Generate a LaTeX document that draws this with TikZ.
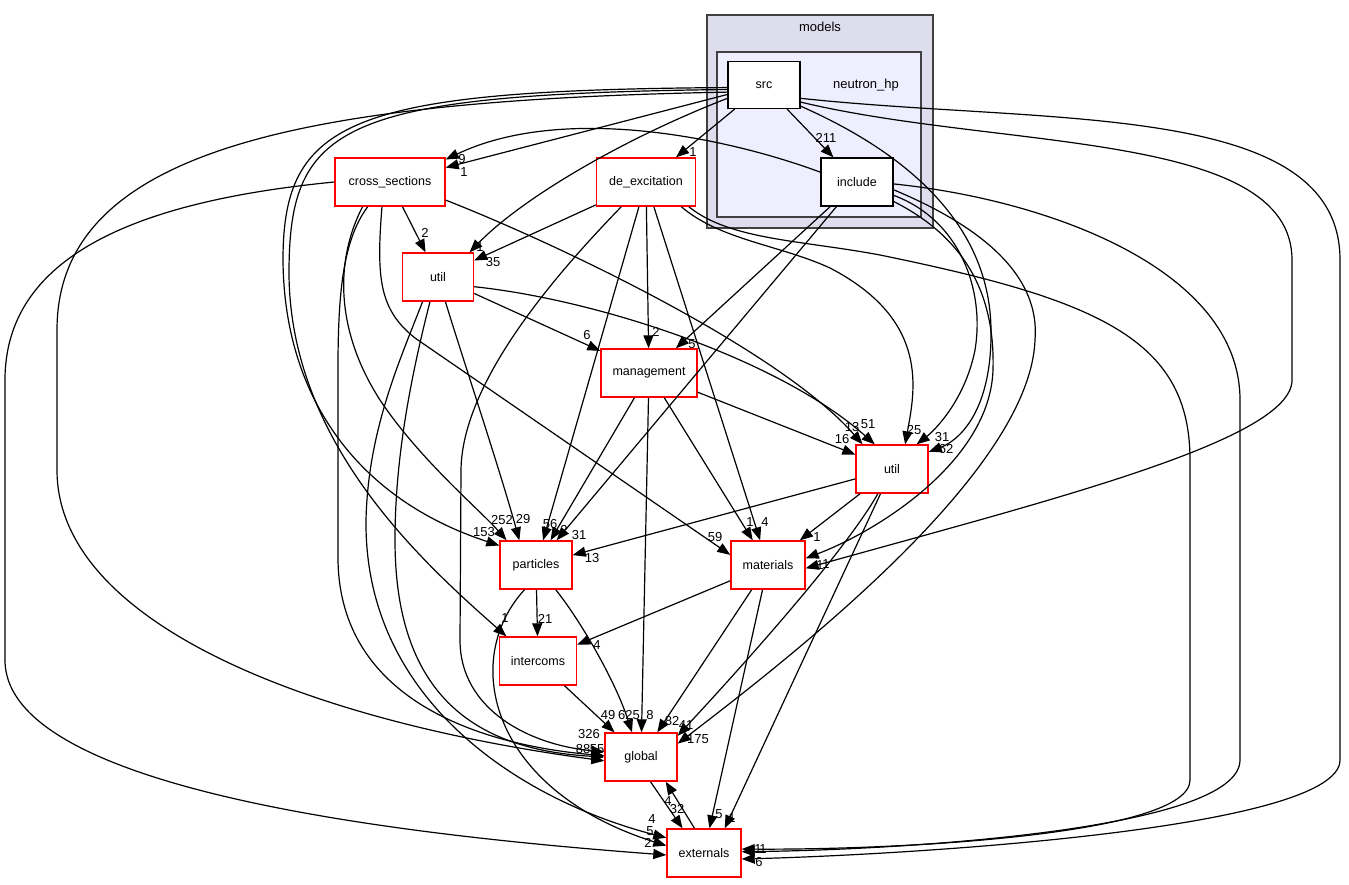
\documentclass[tikz,border=0pt]{standalone}
\usepackage{fontspec}
\setmainfont{Liberation Sans}
\usetikzlibrary{arrows.meta}
\definecolor{models_fill}{HTML}{DDDDEE}
\definecolor{hp_fill}{HTML}{EEEEFF}

\begin{document}
\begin{tikzpicture}[x=1pt,y=-1pt,
	dir_node/.style={draw=red,fill=white,line width=1.4pt,minimum width=#1,minimum height=48pt,inner sep=0pt,font=\fontsize{12.5}{14}\selectfont},
	dir_node/.default=72pt,
	leaf_node/.style={draw=black,fill=white,line width=1.2pt,minimum width=72pt,minimum height=47pt,inner sep=0pt,font=\fontsize{12.5}{14}\selectfont},
	cluster/.style={draw=black!75,line width=1.3pt},
	dep/.style={-{Triangle[length=13pt,width=10pt]},line width=1.2pt},
	num/.style={inner sep=0pt,font=\fontsize{13}{14}\selectfont}]

	\useasboundingbox (0,0) rectangle (1349,884);

	\draw[cluster,fill=models_fill] (707,15) rectangle (933,228);
	\draw[cluster,fill=hp_fill] (717,52) rectangle (921,217);
	\node[num] (models_lbl) at (820,27) {models};
	\node[num] (hp_lbl) at (866,85) {neutron\_hp};

	\node[leaf_node] (src) at (764,85) {src};
	\node[leaf_node,minimum height=48pt] (include) at (857,182) {include};
	\node[dir_node=110pt] (cross_sections) at (390,182) {cross\_sections};
	\node[dir_node=99pt] (de_excitation) at (646,182) {de\_excitation};
	\node[dir_node=71pt] (util_a) at (438,277) {util};
	\node[dir_node=96pt] (management) at (649,373) {management};
	\node[dir_node] (util_b) at (892,469) {util};
	\node[dir_node] (particles) at (536,565) {particles};
	\node[dir_node=74pt] (materials) at (768,565) {materials};
	\node[dir_node=77pt] (intercoms) at (538,661) {intercoms};
	\node[dir_node] (global) at (641,757) {global};
	\node[dir_node=74pt] (externals) at (704,853) {externals};

	\draw[dep] (src) -- (include);
	\draw[dep] (src) -- (de_excitation);
	\draw[dep] (src) -- (cross_sections);
	\draw[dep] (src.200) .. controls (620,140) and (520,200) .. (util_a.38);
	\draw[dep] (src.184) .. controls (350,90) and (283,120) .. (283,260) .. controls (284,400) and (360,500) .. (particles.152);
	\draw[dep] (src.187) .. controls (340,94) and (290,125) .. (289,270) .. controls (288,440) and (420,560) .. (intercoms.142);
	\draw[dep] (src.191) .. controls (300,100) and (57,150) .. (57,330) -- (57,470) .. controls (57,620) and (300,720) .. (global.186);
	\draw[dep] (src.-30) .. controls (900,150) and (990,220) .. (991,330) .. controls (992,410) and (960,440) .. (util_b.25);
	\draw[dep] (src.-25) .. controls (1000,150) and (1292,130) .. (1292,260) -- (1292,380) .. controls (1292,440) and (1050,500) .. (materials.-5);
	\draw[dep] (src.-20) .. controls (1050,125) and (1340,100) .. (1340,260) -- (1340,760) .. controls (1340,830) and (900,855) .. (externals.-9);

	\draw[dep] (include.165) .. controls (720,135) and (560,105) .. (cross_sections.22);
	\draw[dep] (include) -- (management);
	\draw[dep] (include) -- (particles);
	\draw[dep] (include.-20) .. controls (960,220) and (985,290) .. (975,350) .. controls (965,400) and (935,430) .. (util_b.45);
	\draw[dep] (include.-28) .. controls (970,240) and (995,300) .. (993,370) .. controls (990,460) and (880,530) .. (materials.10);
	\draw[dep] (include.-12) .. controls (990,230) and (1040,280) .. (1035,340) .. controls (1030,470) and (800,650) .. (global.20);
	\draw[dep] (include.-3) .. controls (1050,200) and (1240,270) .. (1240,400) -- (1240,760) .. controls (1240,830) and (900,850) .. (externals.2);

	\draw[dep] (de_excitation) -- (util_a);
	\draw[dep] (de_excitation) -- (management);
	\draw[dep] (de_excitation) -- (particles);
	\draw[dep] (de_excitation) -- (materials);
	\draw[dep] (de_excitation.-35) .. controls (720,240) and (780,245) .. (830,268) .. controls (930,320) and (915,390) .. (util_b.62);
	\draw[dep] (de_excitation.-30) .. controls (730,240) and (800,240) .. (880,255) .. controls (1100,300) and (1190,340) .. (1190,460) -- (1190,780) .. controls (1190,835) and (900,850) .. (externals.6);
	\draw[dep] (de_excitation.-135) .. controls (560,270) and (462,380) .. (461,470) -- (460,640) .. controls (460,710) and (530,745) .. (global.172);

	\draw[dep] (cross_sections) -- (util_a);
	\draw[dep] (cross_sections.-18) .. controls (560,245) and (780,350) .. (util_b.140);
	\draw[dep] (cross_sections.-108) .. controls (376,280) and (380,310) .. (415,338) -- (materials.165);
	\draw[dep] (cross_sections.-138) .. controls (335,260) and (335,330) .. (380,400) .. controls (420,460) and (480,510) .. (particles.140);
	\draw[dep] (cross_sections.-132) .. controls (335,250) and (338,330) .. (338,420) -- (338,560) .. controls (340,700) and (480,745) .. (global.178);
	\draw[dep] (cross_sections.west) .. controls (150,200) and (5,250) .. (5,380) -- (5,660) .. controls (5,790) and (400,835) .. (externals.183);

	\draw[dep] (util_a) -- (management);
	\draw[dep] (util_a.-15) .. controls (600,300) and (780,360) .. (util_b.125);
	\draw[dep] (util_a) .. controls (460,350) and (500,470) .. (particles.124);
	\draw[dep] (util_a.-122) .. controls (400,360) and (368,430) .. (366,520) .. controls (364,700) and (520,800) .. (externals.158);
	\draw[dep] (util_a.-108) .. controls (410,380) and (395,460) .. (395,540) .. controls (395,700) and (480,750) .. (global.180);

	\draw[dep] (management) -- (util_b);
	\draw[dep] (management) -- (particles);
	\draw[dep] (management) -- (global);
	\draw[dep] (management) -- (materials);

	\draw[dep] (util_b) -- (particles);
	\draw[dep] (util_b) -- (materials);
	\draw[dep] (util_b) .. controls (840,560) and (720,690) .. (global.30);
	\draw[dep] (util_b) -- (externals.50);

	\draw[dep] (materials) -- (intercoms);
	\draw[dep] (materials) -- (global);
	\draw[dep] (materials) -- (externals);

	\draw[dep] (particles) -- (intercoms);
	\draw[dep] (particles) .. controls (580,620) and (615,680) .. (global.110);
	\draw[dep] (particles.-115) .. controls (460,660) and (490,790) .. (externals.169);
	\draw[dep] (intercoms) -- (global);
	\draw[dep] (global.-69) -- (externals.131);
	\draw[dep] (externals.111) -- (global.-45);

	\node[num] (n_si) at (826,138) {211};
	\node[num] (n_sd) at (693,152) {1};
	\node[num] (n_sc) at (464,172) {1};
	\node[num] (n_ic) at (462,159) {9};
	\node[num] (n_sua) at (480,247) {1};
	\node[num] (n_cua) at (425,233) {2};
	\node[num] (n_dua) at (493,262) {35};
	\node[num] (n_uam) at (587,335) {6};
	\node[num] (n_dm) at (656,332) {2};
	\node[num] (n_im) at (692,344) {5};
	\node[num] (n_cub) at (852,427) {13};
	\node[num] (n_uaub) at (868,424) {51};
	\node[num] (n_mub) at (842,439) {16};
	\node[num] (n_dub) at (914,430) {25};
	\node[num] (n_iub) at (942,437) {31};
	\node[num] (n_sub) at (946,449) {62};
	\node[num] (n_sp) at (484,532) {153};
	\node[num] (n_cp) at (502,520) {252};
	\node[num] (n_uap) at (523,519) {29};
	\node[num] (n_dp) at (550,524) {56};
	\node[num] (n_mp) at (564,530) {2};
	\node[num] (n_ip) at (579,535) {31};
	\node[num] (n_ubp) at (592,558) {13};
	\node[num] (n_cma) at (715,537) {59};
	\node[num] (n_mma) at (750,522) {1};
	\node[num] (n_dma) at (765,522) {4};
	\node[num] (n_ubma) at (817,537) {1};
	\node[num] (n_ima) at (820,565) {1};
	\node[num] (n_sma) at (826,564) {1};
	\node[num] (n_sin) at (505,618) {1};
	\node[num] (n_pin) at (545,619) {21};
	\node[num] (n_main) at (597,645) {4};
	\node[num] (n_ing) at (608,715) {49};
	\node[num] (n_pg) at (629,715) {625};
	\node[num] (n_mg) at (650,715) {8};
	\node[num] (n_mag) at (672,721) {82};
	\node[num] (n_ubg) at (686,725) {41};
	\node[num] (n_ig) at (698,739) {175};
	\node[num] (n_sg) at (589,734) {326};
	\node[num] (n_cg) at (583,749) {88};
	\node[num] (n_dg) at (597,749) {55};
	\node[num] (n_ge) at (677,809) {32};
	\node[num] (n_eg) at (668,801) {4};
	\node[num] (n_mae) at (719,814) {5};
	\node[num] (n_ube) at (732,818) {1};
	\node[num] (n_pe) at (652,819) {4};
	\node[num] (n_uae) at (650,831) {5};
	\node[num] (n_ce) at (648,843) {2};
	\node[num] (n_se) at (759,862) {6};
	\node[num] (n_ie) at (758,849) {1};
	\node[num] (n_de) at (763,849) {1};
\end{tikzpicture}
\end{document}
